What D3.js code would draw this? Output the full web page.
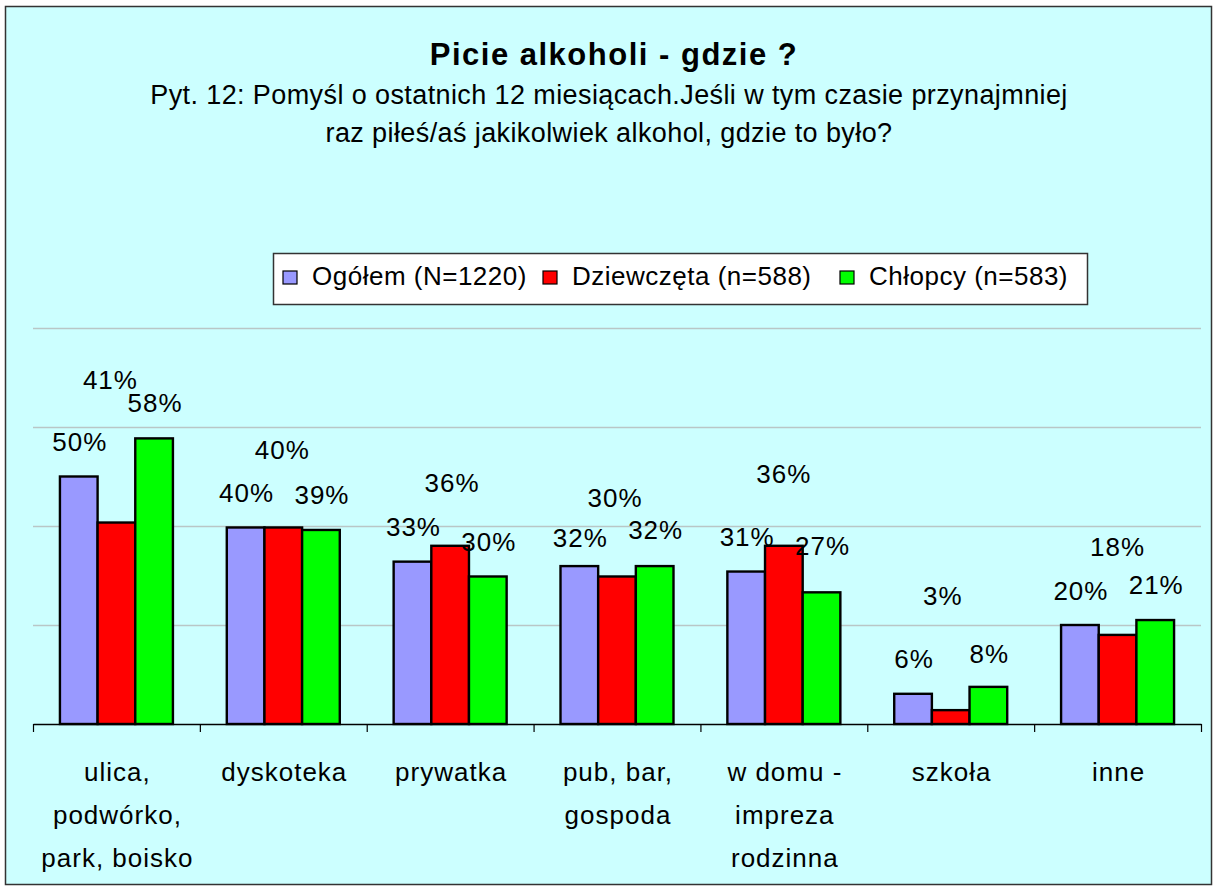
<!DOCTYPE html>
<html>
<head>
<meta charset="utf-8">
<script src="https://cdn.jsdelivr.net/npm/d3@7"></script>
<style>
body { margin: 0; background: #fff; }
text { font-family: Arial, "Liberation Sans", sans-serif; fill: #000; }
</style>
</head>
<body>
<svg width="1217" height="890"></svg>
<script>
// data
const categories = ["ulica,\npodwórko,\npark, boisko", "dyskoteka", "prywatka", "pub, bar,\ngospoda",
    "w domu -\nimpreza\nrodzinna", "szkoła", "inne"]
const seriesNames = ["Ogółem (N=1220)", "Dziewczęta (n=588)", "Chłopcy (n=583)"]
const ogolem = [50, 39.7, 32.8, 31.9, 30.8, 6.1, 20]
const dziewczeta = [40.7, 39.7, 36, 29.8, 36, 2.8, 18]
const chlopcy = [57.7, 39.2, 29.8, 31.9, 26.6, 7.5, 21]
const gridValues = [20, 40, 60, 80]

const colors = ["#9999FF", "#FF0000", "#00FF00"]
// how far above the bar top each value label sits (labels were moved by hand in the original)
const labelLift = [
    [26, 25, 26, 19, 26, 26, 25],
    [134, 68, 54, 69, 63, 105, 79],
    [26, 26, 25, 27, 37, 24, 26]
]
const labelShift = [
    [0, 0, 0, 0, 0, 0, 0],
    [-7, -2, 1, -3, -1, -9, -1],
    [0, 0, 0, 0, 0, 0, 0]
]
const legendX = [283, 543, 840]

const series = [ogolem, dziewczeta, chlopcy]

const svg = d3.select("svg")

svg.append("rect")
    .attr("x", 5.5).attr("y", 6.5)
    .attr("width", 1206).attr("height", 878)
    .attr("fill", "#CCFFFF")
    .attr("stroke", "#333")
    .attr("stroke-width", 1.5)

// titles
svg.append("text")
    .attr("x", 614).attr("y", 65)
    .attr("text-anchor", "middle")
    .attr("font-size", 31).attr("font-weight", "bold")
    .attr("letter-spacing", 1.5)
    .text("Picie alkoholi - gdzie ?")

const sub = ["Pyt. 12: Pomyśl o ostatnich 12 miesiącach.Jeśli w  tym czasie przynajmniej",
    "raz piłeś/aś jakikolwiek alkohol, gdzie to było?"]
svg.selectAll(".sub")
    .data(sub)
    .enter()
    .append("text")
    .attr("class", "sub")
    .attr("x", 609)
    .attr("y", (d, i) => 104 + i * 38)
    .attr("text-anchor", "middle")
    .attr("font-size", 27)
    .attr("letter-spacing", 0.4)
    .text(d => d)

// scales
const x0 = d3.scaleBand().domain(categories).range([33, 1201])
const x1 = d3.scaleBand().domain(d3.range(3)).range([0, x0.bandwidth()]).paddingOuter(0.715)
const y = d3.scaleLinear().domain([0, 80]).range([724, 328])

// gridlines
const grid = svg.append("g")
    .attr("transform", "translate(33,0)")
    .call(d3.axisLeft(y).tickValues(gridValues).tickSize(-1168).tickFormat(""))
grid.select(".domain").remove()
grid.selectAll("line").attr("stroke", "#b9c6c6").attr("stroke-width", 1.5)

// bars
const groups = svg.append("g")
    .selectAll("g")
    .data(series)
    .enter()
    .append("g")
    .attr("fill", (d, i) => colors[i])

groups.each(function(vals, s) {
    d3.select(this).selectAll("rect")
        .data(vals)
        .enter()
        .append("rect")
        .attr("x", (d, i) => x0(categories[i]) + x1(s))
        .attr("y", d => y(d))
        .attr("width", x1.bandwidth())
        .attr("height", d => y(0) - y(d))
        .attr("stroke", "#000")
        .attr("stroke-width", 2.4)
})

// value labels
groups.each(function(vals, s) {
    d3.select(this).selectAll("text")
        .data(vals)
        .enter()
        .append("text")
        .attr("x", (d, i) => x0(categories[i]) + x1(s) + x1.bandwidth() / 2 + labelShift[s][i] + 1)
        .attr("y", (d, i) => y(d) - labelLift[s][i])
        .attr("text-anchor", "middle")
        .attr("font-size", 26)
        .attr("letter-spacing", 1)
        .text(d => Math.round(d) + "%")
})

// x axis with ticks between categories
const xb = d3.scaleLinear().domain([0, categories.length]).range([33, 1201])
const axis = svg.append("g")
    .attr("transform", "translate(0,724)")
    .call(d3.axisBottom(xb).ticks(categories.length).tickSize(8).tickSizeOuter(0).tickFormat(""))
axis.select(".domain").attr("stroke", "#000").attr("stroke-width", 1.5)
axis.selectAll("line").attr("stroke", "#000").attr("stroke-width", 1.2)

svg.append("g")
    .selectAll("text")
    .data(categories)
    .enter()
    .append("text")
    .attr("x", d => x0(d) + x0.bandwidth() / 2 + 1)
    .attr("y", 781)
    .attr("text-anchor", "middle")
    .attr("font-size", 26)
    .attr("letter-spacing", 1)
    .each(function(d) {
        d3.select(this).selectAll("tspan")
            .data(d.split("\n"))
            .enter()
            .append("tspan")
            .attr("x", d3.select(this).attr("x"))
            .attr("dy", (t, i) => i ? 43 : 0)
            .text(t => t)
    })

// legend
const legend = svg.append("g")
legend.append("rect")
    .attr("x", 273.5).attr("y", 253.5)
    .attr("width", 814).attr("height", 51)
    .attr("fill", "#fff")
    .attr("stroke", "#333")
    .attr("stroke-width", 1.5)

seriesNames.forEach((name, i) => {
    legend.append("rect")
        .attr("x", legendX[i]).attr("y", 271)
        .attr("width", 14).attr("height", 13)
        .attr("fill", colors[i])
        .attr("stroke", "#000")
        .attr("stroke-width", 1.2)
    legend.append("text")
        .attr("x", legendX[i] + 29).attr("y", 285)
        .attr("font-size", 26)
        .attr("letter-spacing", 0.5)
        .text(name)
})
</script>
</body>
</html>
